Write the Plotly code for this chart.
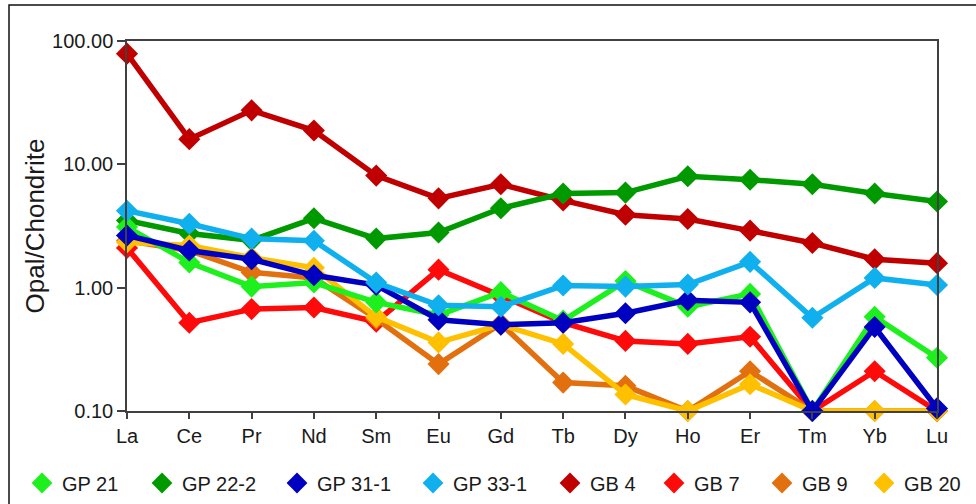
import plotly.graph_objects as go

# Rare earth elements along the x axis
elements = ["La", "Ce", "Pr", "Nd", "Sm", "Eu", "Gd", "Tb", "Dy", "Ho", "Er", "Tm", "Yb", "Lu"]

# Chondrite-normalised concentrations per sample
gp_21   = [3.1, 1.6, 1.02, 1.1, 0.76, 0.6, 0.92, 0.54, 1.13, 0.7, 0.89, 0.1, 0.58, 0.27]
gp_22_2 = [3.5, 2.75, 2.42, 3.65, 2.5, 2.8, 4.4, 5.8, 5.9, 8.0, 7.5, 6.9, 5.8, 5.0]
gp_31_1 = [2.65, 2.0, 1.7, 1.26, 1.05, 0.55, 0.5, 0.52, 0.62, 0.79, 0.76, 0.1, 0.48, 0.105]
gp_33_1 = [4.2, 3.3, 2.5, 2.4, 1.1, 0.72, 0.7, 1.04, 1.02, 1.06, 1.62, 0.57, 1.2, 1.05]
gb_4    = [79.0, 16.0, 27.4, 18.8, 8.1, 5.3, 6.9, 5.1, 3.9, 3.6, 2.9, 2.3, 1.7, 1.58]
gb_7    = [2.1, 0.52, 0.67, 0.69, 0.53, 1.4, 0.86, 0.52, 0.37, 0.35, 0.4, 0.1, 0.21, 0.1]
gb_9    = [2.4, 2.0, 1.33, 1.2, 0.56, 0.24, 0.51, 0.17, 0.16, 0.1, 0.21, 0.1, 0.1, 0.1]
gb_20   = [2.34, 2.2, 1.75, 1.45, 0.58, 0.36, 0.5, 0.35, 0.136, 0.1, 0.165, 0.1, 0.1, 0.1]

# Y axis ticks
y_tickvals = [0.1, 1, 10, 100]
y_ticktext = ["0.10", "1.00", "10.00", "100.00"]

samples = {
    "GP 21":   (gp_21,   "#1EF01E"),
    "GP 22-2": (gp_22_2, "#009A00"),
    "GP 31-1": (gp_31_1, "#0000C0"),
    "GP 33-1": (gp_33_1, "#10B0EE"),
    "GB 4":    (gb_4,    "#C00000"),
    "GB 7":    (gb_7,    "#FF0A0A"),
    "GB 9":    (gb_9,    "#E2700E"),
    "GB 20":   (gb_20,   "#FFC000"),
}
legend_order = ["GP 21", "GP 22-2", "GP 31-1", "GP 33-1", "GB 4", "GB 7", "GB 9", "GB 20"]
draw_order = ["GB 4", "GP 22-2", "GB 7", "GB 9", "GB 20", "GP 21", "GP 31-1", "GP 33-1"]

W, H = 976, 504
ML, MR, MT, MB = 127, 39, 41, 93
PW, PH = W - ML - MR, H - MT - MB

FONT = "Liberation Sans, Arial, sans-serif"
TXT = "#1a1a1a"

fig = go.Figure()

for name in draw_order:
    vals, col = samples[name]
    fig.add_trace(go.Scatter(
        x=elements, y=vals, mode="lines+markers", name=name,
        line=dict(color=col, width=5.5),
        marker=dict(symbol="diamond", size=17, color=col, line=dict(width=0)),
        cliponaxis=False, showlegend=False,
    ))

# Legend entries: one marker-only entry per sample, each in its own legend box
legend_centers = [42, 162, 297, 433, 570, 674, 782, 884]
for i, name in enumerate(legend_order):
    _, col = samples[name]
    key = "legend" if i == 0 else f"legend{i + 1}"
    fig.add_trace(go.Scatter(
        x=[None], y=[None], mode="markers", name=name,
        marker=dict(symbol="diamond", size=17, color=col, line=dict(width=0)),
        legend=key, showlegend=True,
    ))
    fig.layout[key] = dict(
        x=(legend_centers[i] - 20 - ML) / PW, xanchor="left",
        y=(MT + PH - 483) / PH, yanchor="middle",
        orientation="h", bgcolor="rgba(0,0,0,0)", borderwidth=0,
        font=dict(family=FONT, size=20, color=TXT),
    )

# Outer frame around the whole figure
fig.add_shape(type="rect", xref="paper", yref="paper",
              x0=(9 - ML) / PW, x1=(W + 10 - ML) / PW,
              y0=(MT + PH - (H + 10)) / PH, y1=(MT + PH - 5) / PH,
              line=dict(color="#111111", width=1.5), layer="below")

fig.update_layout(
    width=W, height=H,
    margin=dict(l=ML, r=MR, t=MT, b=MB, autoexpand=False),
    paper_bgcolor="white", plot_bgcolor="white",
    font=dict(family=FONT, size=20, color=TXT),
    xaxis=dict(
        type="category", range=[0, len(elements) - 1],
        showgrid=False, zeroline=False,
        showline=True, linecolor="#404040", linewidth=1.5, mirror=True,
        ticks="outside", ticklen=6, tickwidth=1.5, tickcolor="#404040",
        tickfont=dict(family=FONT, size=20, color=TXT),
    ),
    yaxis=dict(
        type="log", range=[-1, 2],
        tickvals=y_tickvals, ticktext=y_ticktext,
        showgrid=False, zeroline=False,
        showline=True, linecolor="#404040", linewidth=1.5, mirror=True,
        ticks="outside", ticklen=8, tickwidth=1.5, tickcolor="#404040",
        tickfont=dict(family=FONT, size=20, color=TXT),
        title=dict(text="Opal/Chondrite", font=dict(family=FONT, size=26, color=TXT), standoff=0),
    ),
)

fig.write_html("out.html")
